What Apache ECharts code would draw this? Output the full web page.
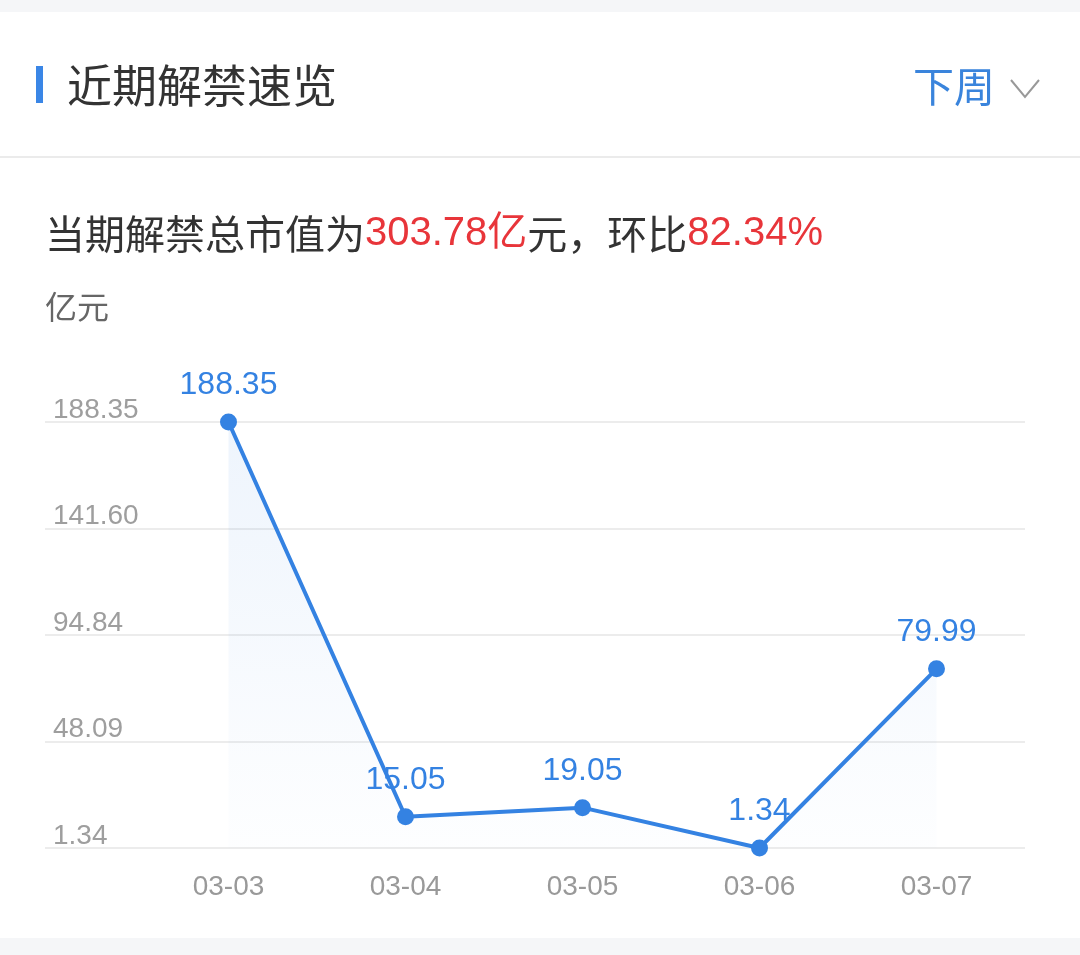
<!DOCTYPE html>
<html>
<head>
<meta charset="utf-8">
<script src="https://cdn.jsdelivr.net/npm/echarts@6/dist/echarts.min.js"></script>
<style>
  html, body { margin: 0; padding: 0; background: #fff; }
  #main { width: 1080px; height: 955px; }
</style>
</head>
<body>
<div id="main"></div>
<script>
const categories = ['03-03', '03-04', '03-05', '03-06', '03-07'];
const values = [188.35, 15.05, 19.05, 1.34, 79.99];
const yTicks = [1.34, 48.09, 94.84, 141.60, 188.35];
const totalValue = '303.78亿';
const ratio = '82.34%';

const FONT = "Arial, 'Noto Sans CJK SC', sans-serif";
const BLUE = '#3482e2';
const yMin = yTicks[0];
const yMax = yTicks[yTicks.length - 1];

const chart = echarts.init(document.getElementById('main'), null, { renderer: 'canvas' });

chart.setOption({
    animation: false,
    backgroundColor: '#fff',
    textStyle: { fontFamily: FONT },
    graphic: [
        { type: 'rect', shape: { x: 0, y: 0, width: 1080, height: 12 }, style: { fill: '#f5f6f8' } },
        { type: 'rect', shape: { x: 0, y: 938, width: 1080, height: 17 }, style: { fill: '#f5f6f8' } },
        { type: 'rect', shape: { x: 36, y: 66, width: 7, height: 37 }, style: { fill: '#3a86e6' } },
        { type: 'text', x: 67, y: 86, style: { text: '近期解禁速览', font: "45px 'Noto Sans CJK SC'", fill: '#333', verticalAlign: 'middle' } },
        { type: 'text', x: 913, y: 86, style: { text: '下周', font: "41px 'Noto Sans CJK SC'", fill: '#3a84dc', verticalAlign: 'middle' } },
        { type: 'polyline', shape: { points: [[1011, 80], [1025, 97], [1039, 80]] }, style: { stroke: '#999', lineWidth: 2, fill: null } },
        { type: 'line', shape: { x1: 0, y1: 157, x2: 1080, y2: 157 }, style: { stroke: '#ebebeb', lineWidth: 2 } },
        {
            type: 'text', x: 45, y: 234,
            style: {
                text: '当期解禁总市值为{r|' + totalValue + '}元，环比{r|' + ratio + '}',
                font: "40px 'Noto Sans CJK SC'", fill: '#333', verticalAlign: 'middle',
                rich: { r: { fill: '#e8353a', font: "40px Arial, 'Noto Sans CJK SC'" } }
            }
        },
        { type: 'text', x: 45, y: 307, style: { text: '亿元', font: "32px 'Noto Sans CJK SC'", fill: '#666', verticalAlign: 'middle' } }
    ],
    grid: [
        { left: 45, right: 55, top: 422, bottom: 107 },
        { left: 140, right: 55, top: 422, bottom: 107 }
    ],
    xAxis: [
        { type: 'category', gridIndex: 0, data: categories, show: false },
        {
            type: 'category', gridIndex: 1, data: categories, boundaryGap: true,
            axisLine: { show: false }, axisTick: { show: false },
            axisLabel: { color: '#999', fontSize: 28, margin: 25 }
        }
    ],
    yAxis: [
        {
            type: 'value', gridIndex: 0, min: yMin, max: yMax,
            axisLine: { show: false },
            axisTick: { show: false, customValues: yTicks },
            axisLabel: {
                inside: true, margin: 8, customValues: yTicks,
                color: '#9e9e9e', fontSize: 28, lineHeight: 24, verticalAlign: 'bottom',
                formatter: v => v.toFixed(2)
            },
            splitLine: { lineStyle: { color: '#ececec', width: 2 } }
        },
        { type: 'value', gridIndex: 1, min: yMin, max: yMax, show: false, splitLine: { show: false } }
    ],
    series: [{
        type: 'line',
        xAxisIndex: 1,
        yAxisIndex: 1,
        data: values,
        symbol: 'circle',
        symbolSize: 17,
        lineStyle: { color: BLUE, width: 4 },
        itemStyle: { color: BLUE },
        label: { show: true, position: 'top', distance: 12, color: BLUE, fontSize: 32, formatter: p => p.value.toFixed(2) },
        areaStyle: {
            color: new echarts.graphic.LinearGradient(0, 0, 0, 1, [
                { offset: 0, color: 'rgba(52,130,226,0.12)' },
                { offset: 1, color: 'rgba(52,130,226,0.01)' }
            ])
        }
    }]
});
</script>
</body>
</html>
